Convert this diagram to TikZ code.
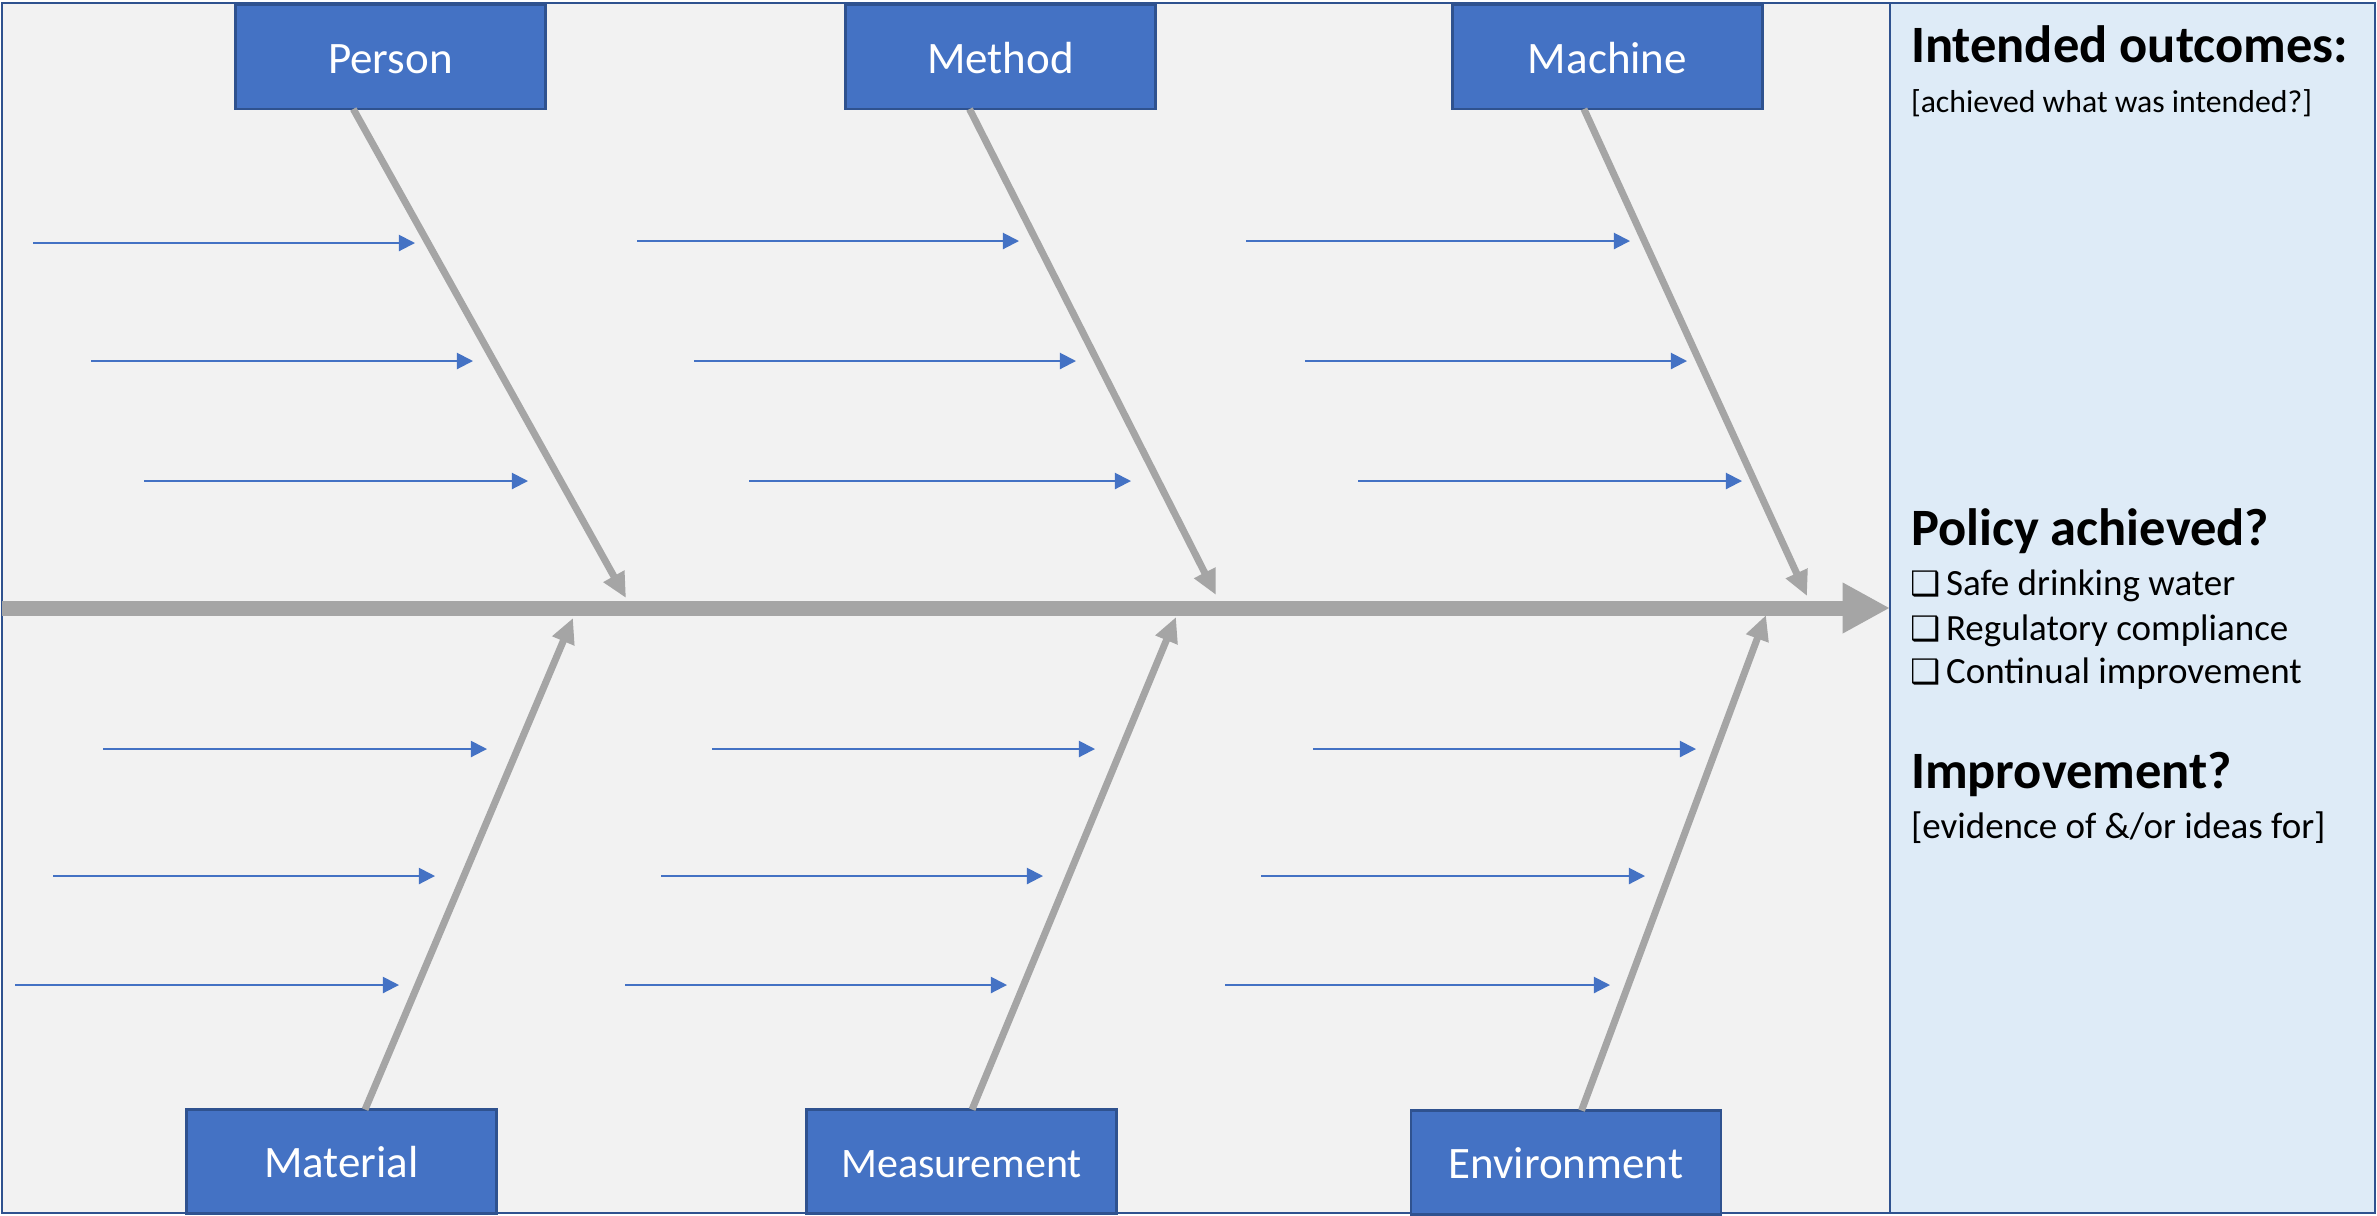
\documentclass[tikz,border=0pt]{standalone}
\usepackage{fontspec}
\setmainfont{Carlito}
\newfontfamily\dejavu{DejaVu Sans}
\usetikzlibrary{arrows.meta,calc}
\definecolor{boxblue}{HTML}{4472C4}
\definecolor{edgeblue}{HTML}{2F528F}
\definecolor{bonegray}{HTML}{A5A5A5}
\definecolor{bggray}{HTML}{F2F2F2}
\definecolor{panelblue}{HTML}{DEEBF7}
\begin{document}
\begin{tikzpicture}[x=0.4pt,y=-0.4pt,
  cause/.style={draw=edgeblue, line width=1pt, fill=boxblue, text=white,
    minimum width=124pt, minimum height=41.6pt, inner sep=0pt, outer sep=0pt,
    text height=12.8pt, text depth=0pt, font=\fontsize{18}{20}\selectfont},
  bone/.style={draw=bonegray, line width=2.8pt, -{Triangle[length=10pt,width=9pt]}},
  spine/.style={draw=bonegray, line width=6pt, -{Triangle[length=19pt,width=19pt]}},
  subarrow/.style={draw=boxblue, line width=0.8pt, -{Triangle[length=6.5pt,width=6.5pt]}},
  ptext/.style={anchor=base west, inner sep=0pt, outer sep=0pt},
  headtext/.style={ptext, font=\bfseries\fontsize{21}{24}\selectfont},
  bodytext/.style={ptext, font=\fontsize{14.8}{17}\selectfont},
  chk/.style={ptext, font=\dejavu\bfseries\fontsize{13.5}{15}\selectfont}
]
\useasboundingbox (0,0) rectangle (2377,1215);
% frame and panel
\node[draw=edgeblue, line width=1pt, fill=bggray, minimum width=755.2pt, minimum height=484pt,
  inner sep=0pt, outer sep=0pt] (frame) at (946,608) {};
\node[draw=edgeblue, line width=1pt, fill=panelblue, minimum width=194pt, minimum height=484pt,
  inner sep=0pt, outer sep=0pt] (panel) at (2132.5,608) {};

% spine
\draw[spine] (frame.west) -- (panel.west);

% cause boxes
\node[cause] (person) at (390.5,57) {Person};
\node[cause] (method) at (1000.5,57) {Method};
\node[cause] (machine) at (1607.5,57) {Machine};
\node[cause] (material) at (341.5,1161.5) {Material};
\node[cause, font=\fontsize{16.8}{19}\selectfont] (measurement) at (961.5,1161.5) {Measurement};
\node[cause] (environment) at (1566,1162.5) {Environment};

% bone tips on spine
\coordinate (tPerson) at (626,598);
\coordinate (tMethod) at (1216,595);
\coordinate (tMachine) at (1807,596);
\coordinate (tMaterial) at (573,618);
\coordinate (tMeasurement) at (1176,617);
\coordinate (tEnvironment) at (1766,615);

\draw[bone] ($(person.south west)!0.38!(person.south east)$) -- (tPerson);
\draw[bone] ($(method.south west)!0.40!(method.south east)$) -- (tMethod);
\draw[bone] ($(machine.south west)!0.424!(machine.south east)$) -- (tMachine);
\draw[bone] ($(material.north west)!0.576!(material.north east)$) -- (tMaterial);
\draw[bone] ($(measurement.north west)!0.534!(measurement.north east)$) -- (tMeasurement);
\draw[bone] ($(environment.north west)!0.55!(environment.north east)$) -- (tEnvironment);

% sub-cause arrows
\foreach \a/\b/\y [count=\i] in {33/415/243, 91/473/361, 144/528/481,
  637/1019/241, 694/1076/361, 749/1131/481,
  1246/1630/241, 1305/1687/361, 1358/1742/481,
  103/487/749, 53/435/876, 15/399/985,
  712/1095/749, 661/1043/876, 625/1007/985,
  1313/1696/749, 1261/1645/876, 1225/1610/985}{
  \coordinate (s\i) at (\a,\y);
  \coordinate (e\i) at (\b,\y);
  \draw[subarrow] (s\i) -- (e\i);
}

% panel text
\node[headtext] (h1) at (1911,62) {Intended outcomes:};
\node[ptext, font=\fontsize{12.7}{15}\selectfont] (s1) at (1911,112) {[achieved what was intended?]};
\node[headtext] (h2) at (1911,545) {Policy achieved?};
\node[chk] (c1) at (1910,595) {❑};
\node[bodytext] (l1) at (1946,595) {Safe drinking water};
\node[chk] (c2) at (1910,640) {❑};
\node[bodytext] (l2) at (1946,640) {Regulatory compliance};
\node[chk] (c3) at (1910,683) {❑};
\node[bodytext] (l3) at (1946,683) {Continual improvement};
\node[headtext] (h3) at (1911,788) {Improvement?};
\node[bodytext] (s3) at (1911,838) {[evidence of \&/or ideas for]};
\end{tikzpicture}
\end{document}
